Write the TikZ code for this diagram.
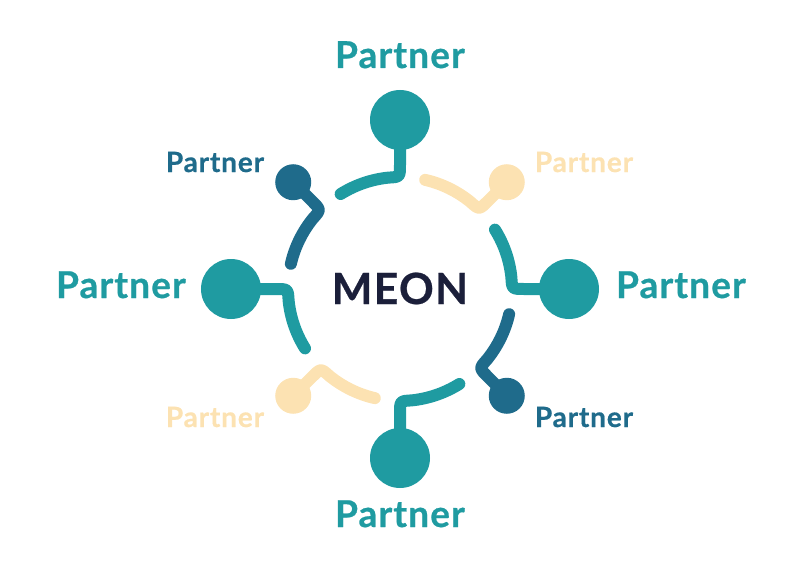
\documentclass[tikz,border=0pt]{standalone}
\usepackage{fontspec}
\setmainfont{Lato}
\usetikzlibrary{positioning}
\definecolor{meonteal}{HTML}{1F9BA1}
\definecolor{meonblue}{HTML}{1F6B8B}
\definecolor{meonsand}{HTML}{FCE2B2}
\definecolor{meonnavy}{HTML}{1B1F3A}
\tikzset{
  ball/.style={circle, inner sep=0pt, minimum size=#1},
  spoke/.style={line width=12pt, line cap=round, line join=round},
  plabel/.style={font=\bfseries\fontsize{#1}{#1}\selectfont
    \addfontfeature{LetterSpace=3, FakeBold=0.6}, anchor=base},
}

\begin{document}
\begin{tikzpicture}[x=1pt, y=1pt]
  \useasboundingbox (-400,-295) rectangle (400,289);
  % spokes: angle / distance / ball size / colour
  \foreach \ang/\d/\s/\col [count=\i] in {90/169/60/meonteal, 45/151/36/meonsand,
      0/169/60/meonteal, 315/151/36/meonblue, 270/169/60/meonteal,
      225/151/36/meonsand, 180/169/60/meonteal, 135/151/36/meonblue} {
    \node[ball=\s pt, fill=\col] (ball\i) at (\ang:\d) {};
    \coordinate (ring\i) at (\ang:112);
    \draw[spoke, \col] (ball\i.center) -- (\ang:124)
      .. controls (ring\i) .. ({\ang+6}:112)
      arc[start angle=\ang+6, end angle=\ang+32, radius=112pt];
  }
  % labels
  \foreach \x/\y/\fs/\col [count=\i] in {0/221/37/meonteal, 184/117/28/meonsand,
      281/-9/37/meonteal, 184/-138/28/meonblue, 0/-238/37/meonteal,
      -185/-138/28/meonsand, -279/-9/37/meonteal, -185/117/28/meonblue} {
    \node[plabel=\fs, text=\col] (lab\i) at (\x,\y) {Partner};
  }
  \node[plabel=43, text=meonnavy] (meon) at (0,-15) {MEON};
\end{tikzpicture}
\end{document}
